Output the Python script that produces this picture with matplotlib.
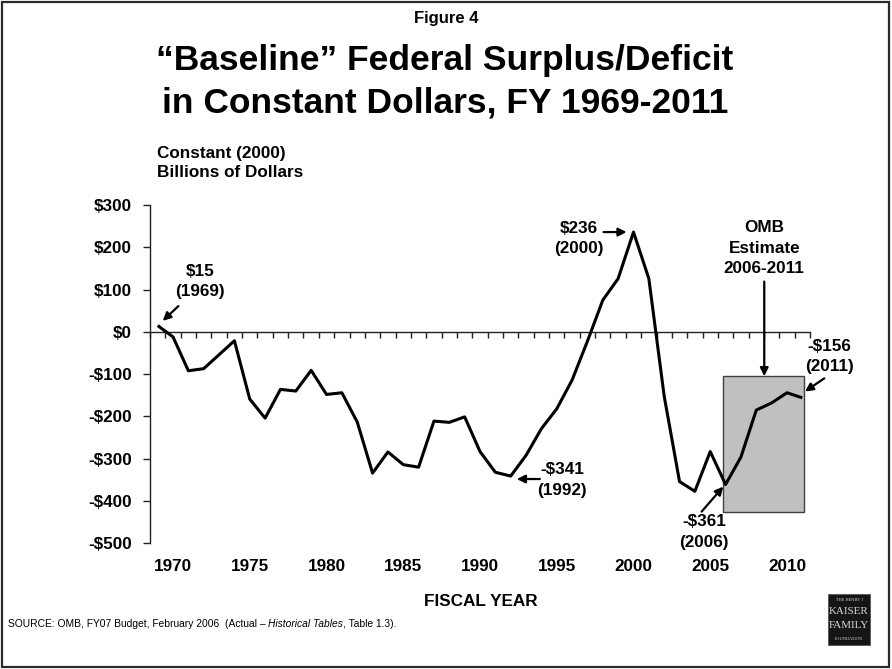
import matplotlib
matplotlib.use("Agg")
import matplotlib.pyplot as plt
from matplotlib.patches import Rectangle
import numpy as np

# Federal surplus (+) / deficit (-), constant 2000 dollars, billions
years = list(range(1969, 2012))
surplus = [15, -12, -92, -87, -54, -21,
           -159, -204, -136, -140, -91,
           -148, -144, -213, -334, -284,
           -314, -320, -211, -214, -201,
           -283, -332, -341, -292, -229,
           -182, -114, -22, 75, 126,
           236, 126, -152, -354, -377,
           -283, -361, -296, -185, -168,
           -144, -156]

year_labels = [1970, 1975, 1980, 1985, 1990, 1995, 2000, 2005, 2010]
y_ticks = [300, 200, 100, 0, -100, -200, -300, -400, -500]
y_tick_labels = ["$300", "$200", "$100", "$0", "-$100", "-$200",
                 "-$300", "-$400", "-$500"]

W, H, DPI = 892, 669, 100
plt.rcParams['font.family'] = ['Liberation Sans', 'DejaVu Sans']
plt.rcParams['font.weight'] = 'bold'
FS = 12.3


def fx(px):
    return px / W


def fy(py):
    return 1 - py / H


fig = plt.figure(figsize=(W / DPI, H / DPI), dpi=DPI)
fig.patch.set_facecolor('white')

# outer frame
fig.patches.append(Rectangle((fx(2), fy(667)), fx(887), 665 / H,
                             transform=fig.transFigure, fill=False,
                             edgecolor='#2a2a2a', lw=1.6))

ax = fig.add_axes([fx(150), fy(543.3), fx(810) - fx(150), fy(205) - fy(543.3)])
idx = np.arange(len(years))
ax.plot(idx, surplus, color='black', lw=2.2, zorder=4,
        solid_joinstyle='round', solid_capstyle='butt')
ax.set_xlim(-0.5, len(years) - 0.5)
ax.set_ylim(-500, 300)

for s in ('top', 'right'):
    ax.spines[s].set_visible(False)
ax.spines['left'].set_color('#222222')
ax.spines['left'].set_linewidth(1.0)
ax.spines['bottom'].set_position(('data', 0))
ax.spines['bottom'].set_color('#222222')
ax.spines['bottom'].set_linewidth(1.0)

# category boundaries on the zero line
ax.set_xticks(np.arange(-0.5, len(years), 1.0))
ax.tick_params(axis='x', direction='out', length=4, width=1.0,
               color='#222222', labelbottom=False)

ax.set_yticks(y_ticks, y_tick_labels)
ax.tick_params(axis='y', direction='out', length=5, width=1.0,
               color='#222222', pad=8, labelsize=FS)

# year labels along the bottom edge
sec = ax.secondary_xaxis('bottom')
sec.spines['bottom'].set_visible(False)
sec.set_xticks([years.index(y) for y in year_labels],
               [str(y) for y in year_labels])
sec.tick_params(length=0, pad=11, labelsize=FS)

# OMB estimate period
ax.add_patch(Rectangle((36.8, -426), 42.08 - 36.8, 321,
                       facecolor='#c0c0c0', edgecolor='#404040',
                       lw=1.0, zorder=2))

arrow = dict(arrowstyle='-|>', color='black', lw=1.6,
             mutation_scale=12, shrinkA=0, shrinkB=0)
txt = dict(ha='center', va='center', fontsize=FS, fontweight='bold',
           linespacing=1.45)


def i_of(year):
    return years.index(year)


def v_of(year):
    return surplus[years.index(year)]


ax.text(2.76, 119, f"${v_of(1969)}\n(1969)", **txt)
ax.annotate("", xy=(0.33, 26), xytext=(1.35, 61), arrowprops=arrow,
            annotation_clip=False)

ax.text(27.45, 221, f"${v_of(2000)}\n(2000)", **txt)
ax.annotate("", xy=(i_of(2000) - 0.45, v_of(2000)),
            xytext=(29.05, v_of(2000)), arrowprops=arrow)

ax.text(26.34, -350, f"-${-v_of(1992)}\n(1992)", **txt)
ax.annotate("", xy=(23.4, -348), xytext=(24.9, -348), arrowprops=arrow)

ax.text(35.59, -473, f"-${-v_of(2006)}\n(2006)", **txt)
ax.annotate("", xy=(36.85, -366), xytext=(35.44, -425), arrowprops=arrow)

ax.text(43.77, -58, f"-${-v_of(2011)}\n(2011)", clip_on=False, **txt)
ax.annotate("", xy=(42.17, -141), xytext=(43.43, -110), arrowprops=arrow,
            annotation_clip=False)

ax.text(39.52, 198, "OMB\nEstimate\n2006-2011", **txt)
ax.annotate("", xy=(39.52, -105), xytext=(39.52, 119), arrowprops=arrow)

# titles and labels
fig.text(fx(446), fy(23), "Figure 4", ha='center', va='baseline',
         fontsize=12, fontweight='bold')
fig.text(fx(445), fy(70), "\u201cBaseline\u201d Federal Surplus/Deficit",
         ha='center', va='baseline', fontsize=25.5, fontweight='bold')
fig.text(fx(445), fy(113), "in Constant Dollars, FY 1969-2011",
         ha='center', va='baseline', fontsize=25.5, fontweight='bold')

fig.text(fx(157), fy(163), "Constant (2000)\nBillions of Dollars",
         ha='left', va='center', fontsize=FS, fontweight='bold',
         linespacing=1.32)
fig.text(fx(481), fy(601), "FISCAL YEAR", ha='center', va='center',
         fontsize=FS, fontweight='bold')

# source line, with the table name in italics
fig.canvas.draw()
renderer = fig.canvas.get_renderer()
pieces = [("SOURCE: OMB, FY07 Budget, February 2006  (Actual \u2013 ", 'normal'),
          ("Historical Tables", 'italic'),
          (", Table 1.3).", 'normal')]
x = 8
for s, style in pieces:
    t = fig.text(fx(x), fy(624), s, ha='left', va='center', fontsize=7.4,
                 fontweight='normal', fontstyle=style)
    x += t.get_window_extent(renderer).width

# foundation logo
lx0, lx1, ly0, ly1 = 828, 870, 594, 645
fig.patches.append(Rectangle((fx(lx0), fy(ly1)), fx(lx1 - lx0), (ly1 - ly0) / H,
                             transform=fig.transFigure, facecolor='#151515',
                             edgecolor='#555555', lw=0.6))
serif = ['Liberation Serif', 'DejaVu Serif']
lc = (lx0 + lx1) / 2
for s, yy, sz in [("THE HENRY J", 600, 3.2), ("KAISER", 612, 7.9),
                  ("FAMILY", 626, 7.9), ("FOUNDATION", 639, 3.2)]:
    fig.text(fx(lc), fy(yy), s, ha='center', va='center', fontsize=sz,
             family=serif, fontweight='normal', color='#d8d8d8')

fig.savefig("out.png", dpi=DPI, facecolor='white')
